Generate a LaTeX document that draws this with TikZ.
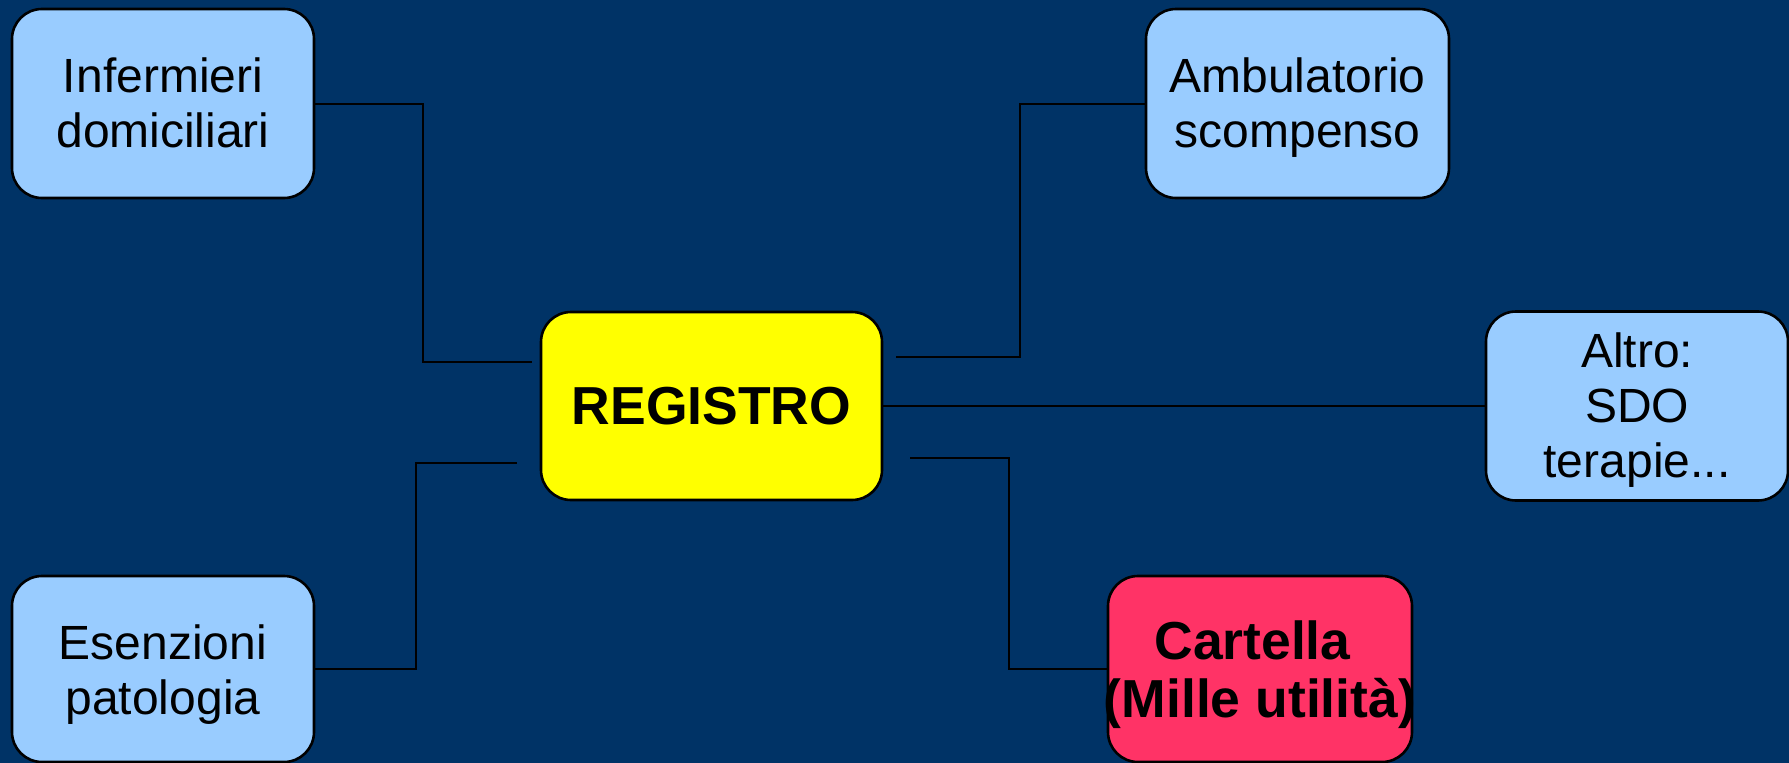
\documentclass[tikz,border=0pt]{standalone}
\usepackage{fontspec}
\setmainfont{Liberation Sans}
\definecolor{bgnavy}{HTML}{003366}
\definecolor{lblue}{HTML}{99CCFF}
\definecolor{yel}{HTML}{FFFF00}
\definecolor{pinkred}{HTML}{FF3366}
\tikzset{
  box/.style={draw=black, line width=2.6pt, rounded corners=30pt, fill=lblue,
    inner sep=0pt, outer sep=0pt},
  txt/.style={align=center, inner sep=0pt, text=black,
    font=\fontsize{48}{55}\selectfont},
  boldtxt/.style={txt, font=\fontsize{53.5}{58}\selectfont\bfseries},
  conn/.style={draw=black, line width=2pt}
}
\begin{document}
\begin{tikzpicture}[x=1pt,y=-1pt]
\useasboundingbox (0,0) rectangle (1789,763);
\fill[bgnavy] (0,0) rectangle (1789,763);
\node[box, minimum width=302pt, minimum height=189pt] (inf) at (163,103.5) {};
\node[box, minimum width=302pt, minimum height=186pt] (esen) at (163,669) {};
\node[box, fill=yel, minimum width=341pt, minimum height=188pt] (reg) at (711.5,406) {};
\node[box, minimum width=303pt, minimum height=189pt] (amb) at (1297.5,103.5) {};
\node[box, minimum width=302pt, minimum height=189pt] (alt) at (1637,406) {};
\node[box, fill=pinkred, minimum width=304pt, minimum height=186pt] (car) at (1260,669) {};
\node[txt] (inft) at (163,103) {Infermieri\\domiciliari};
\node[txt] (esent) at (163,675) {Esenzioni\\patologia};
\node[boldtxt] (regt) at (711.5,406) {REGISTRO};
\node[txt] (ambt) at (1297.5,108) {Ambulatorio\\scompenso};
\node[txt] (altt) at (1637,410.5) {Altro:\\SDO\\terapie...};
\node[boldtxt] (cart) at (1260,675) {Cartella\rule{15pt}{0pt}\\(Mille utilità)};
\coordinate (k1) at (423,362); \coordinate (c1) at (532,362);
\coordinate (k2) at (416,463); \coordinate (c2) at (517,463);
\coordinate (k3) at (1020,357); \coordinate (c3) at (896,357);
\coordinate (k4) at (1009,458); \coordinate (c4) at (910,458);
\draw[conn] (inf.east) -| (k1) -- (c1);
\draw[conn] (esen.east) -| (k2) -- (c2);
\draw[conn] (amb.west) -| (k3) -- (c3);
\draw[conn] (car.west) -| (k4) -- (c4);
\draw[conn] (reg.east) -- (alt.west);
\end{tikzpicture}
\end{document}
